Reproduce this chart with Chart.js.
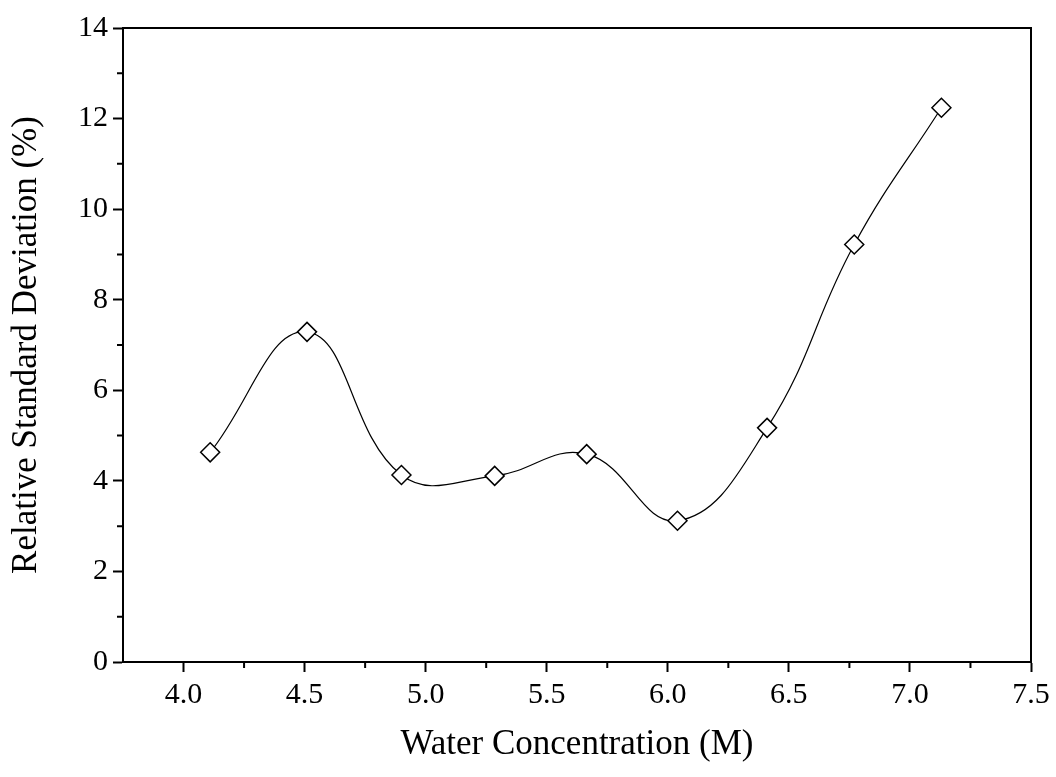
<!DOCTYPE html>
<html>
<head>
<meta charset="utf-8">
<title>Relative Standard Deviation vs Water Concentration</title>
<script src="https://cdn.jsdelivr.net/npm/chart.js@4/dist/chart.umd.min.js"></script>
<style>
  html, body { margin: 0; padding: 0; background: #fff; }
  canvas { display: block; }
</style>
</head>
<body>
<canvas id="chart" width="1056" height="777"></canvas>
<script>
// 水濃度 (M) と相対標準偏差 (%)
const waterConc = [4.11, 4.51, 4.90, 5.285, 5.665, 6.04, 6.41, 6.77, 7.13];
const rsd = [4.63, 7.29, 4.13, 4.11, 4.59, 3.12, 5.17, 9.22, 12.24];

// 目盛り
const xTicks = [4.0, 4.5, 5.0, 5.5, 6.0, 6.5, 7.0, 7.5];
const xMinor = [4.25, 4.75, 5.25, 5.75, 6.25, 6.75, 7.25];
const yTicks = [0, 2, 4, 6, 8, 10, 12, 14];
const yMinor = [1, 3, 5, 7, 9, 11, 13];

const FONT = '"Liberation Serif", "Times New Roman", serif';

// 上と右の枠線、短い補助目盛り
const frameAndMinor = {
    id: 'frameAndMinor',
    afterDraw: function (chart) {
        const ctx = chart.ctx;
        const a = chart.chartArea;
        const x = chart.scales.x;
        const y = chart.scales.y;
        ctx.save();
        ctx.strokeStyle = '#000';
        ctx.lineWidth = 2;
        ctx.beginPath();
        ctx.moveTo(a.left - 1, a.top);
        ctx.lineTo(a.right, a.top);
        ctx.lineTo(a.right, a.bottom + 1);
        xMinor.forEach(function (v) {
            const px = x.getPixelForValue(v);
            ctx.moveTo(px, a.bottom);
            ctx.lineTo(px, a.bottom + 6);
        });
        yMinor.forEach(function (v) {
            const py = y.getPixelForValue(v);
            ctx.moveTo(a.left, py);
            ctx.lineTo(a.left - 6, py);
        });
        ctx.stroke();
        ctx.restore();
    }
};

new Chart(document.getElementById('chart').getContext('2d'), {
    type: 'line',
    data: {
        datasets: [{
            label: 'RSD',
            data: waterConc.map(function (c, i) { return { x: c, y: rsd[i] }; }),
            borderColor: '#000',
            borderWidth: 1.2,
            tension: 0.42,
            pointStyle: 'rectRot',
            pointRadius: 9.5,
            pointBackgroundColor: '#fff',
            pointBorderColor: '#000',
            pointBorderWidth: 1.5,
            fill: false
        }]
    },
    options: {
        responsive: false,
        animation: false,
        layout: { padding: { left: 0, top: 28, right: 25, bottom: 0 } },
        plugins: {
            legend: { display: false },
            tooltip: { enabled: false }
        },
        scales: {
            x: {
                type: 'linear',
                min: 3.75,
                max: 7.5,
                afterBuildTicks: function (s) { s.ticks = xTicks.map(function (v) { return { value: v }; }); },
                afterFit: function (s) { s.height = 115; },
                ticks: {
                    color: '#000',
                    font: { family: FONT, size: 30 },
                    padding: 5,
                    maxRotation: 0,
                    autoSkip: false,
                    callback: function (v) { return Number(v).toFixed(1); }
                },
                grid: { drawOnChartArea: false, tickLength: 10, tickWidth: 2, color: '#000' },
                border: { color: '#000', width: 2 },
                title: {
                    display: true,
                    text: 'Water Concentration (M)',
                    color: '#000',
                    font: { family: FONT, size: 35 },
                    padding: { top: 0, bottom: 11 }
                }
            },
            y: {
                type: 'linear',
                min: 0,
                max: 14,
                afterBuildTicks: function (s) { s.ticks = yTicks.map(function (v) { return { value: v }; }); },
                afterFit: function (s) { s.width = 123; },
                ticks: {
                    color: '#000',
                    font: { family: FONT, size: 30 },
                    padding: 5,
                    autoSkip: false
                },
                grid: { drawOnChartArea: false, tickLength: 10, tickWidth: 2, color: '#000' },
                border: { color: '#000', width: 2 },
                title: {
                    display: true,
                    text: 'Relative Standard Deviation (%)',
                    color: '#000',
                    font: { family: FONT, size: 35 },
                    padding: { top: 6, bottom: 0 }
                }
            }
        }
    },
    plugins: [frameAndMinor]
});
</script>
</body>
</html>
